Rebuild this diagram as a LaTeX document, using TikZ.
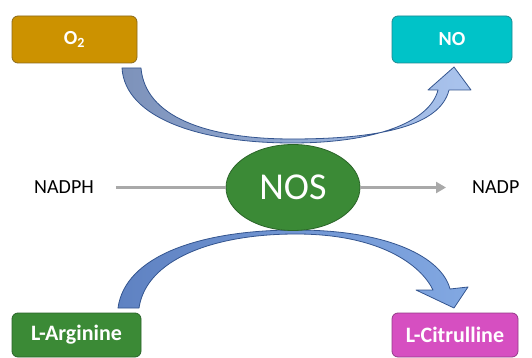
\documentclass[tikz,border=0pt]{standalone}
\usepackage{fontspec}
\setmainfont{Carlito}
\usetikzlibrary{shapes.geometric,arrows.meta}
\definecolor{oxy}{HTML}{CC9200}
\definecolor{oxyb}{HTML}{8C6A1A}
\definecolor{noc}{HTML}{00C3C8}
\definecolor{nocb}{HTML}{1B8A92}
\definecolor{argc}{HTML}{3B8A36}
\definecolor{argb}{HTML}{2A6428}
\definecolor{citc}{HTML}{D64FC1}
\definecolor{citb}{HTML}{953A88}
\definecolor{arrb}{HTML}{34558F}
\definecolor{lineg}{HTML}{A9A9A9}
\definecolor{topl}{HTML}{7D92BA}
\definecolor{topr}{HTML}{AAC4EE}
\definecolor{botl}{HTML}{5F82C2}
\definecolor{botr}{HTML}{82A8E2}
\tikzset{
  boxsty/.style={draw, line width=0.8pt, rounded corners=6pt, inner sep=0pt,
    text=white, font=\fontsize{20}{22}\selectfont\bfseries},
  bigbox/.style={boxsty, font=\fontsize{22}{24}\selectfont\bfseries},
  plain/.style={inner sep=0pt, font=\fontsize{20}{23}\selectfont},
  grayline/.style={draw=lineg, line width=2.6pt},
  blockarrow/.style={draw=arrb, line width=0.8pt, line join=round}
}
\begin{document}
\begin{tikzpicture}[x=1pt,y=-1pt]
\useasboundingbox (0,0) rectangle (532,358);
\fill[white] (0,0) rectangle (532,358);

% boxes
\node[boxsty, fill=oxy, draw=oxyb, minimum width=125pt, minimum height=47pt] (o2) at (74.5,39.5) {O\textsubscript{2}};
\node[boxsty, fill=noc, draw=nocb, minimum width=120pt, minimum height=47pt] (no) at (452,39.5) {NO};
\node[bigbox, fill=argc, draw=argb, minimum width=129pt, minimum height=44pt] (arg) at (76.5,335) {L-Arginine};
\node[bigbox, fill=citc, draw=citb, minimum width=126pt, minimum height=44pt] (cit) at (455,335) {L-Citrulline};

% top curved arrow (O2 -> NO)
\shade[blockarrow, left color=topl, right color=topr]
  (122,68) .. controls (125,118) and (200,143) .. (292,143)
  .. controls (375,143) and (430,122) .. (438,90)
  -- (428,90) -- (454,67) -- (471,90) -- (449,90)
  .. controls (440,126) and (380,139) .. (292,139)
  .. controls (205,139) and (145,116) .. (141,68) -- cycle;

% bottom curved arrow (L-Arginine -> L-Citrulline)
\shade[blockarrow, left color=botl, right color=botr]
  (118,308) .. controls (125,256) and (200,230) .. (296,230)
  .. controls (390,230) and (442,258) .. (450,289)
  -- (468,287) -- (454,308) -- (416,290) -- (433,290)
  .. controls (421,265) and (380,234) .. (296,234)
  .. controls (212,234) and (146,260) .. (139,308) -- cycle;

% NOS
\node[ellipse, fill=argc, draw=argb, line width=0.8pt, minimum width=134pt, minimum height=86pt, inner sep=0pt,
  text=white, font=\fontsize{38}{40}\selectfont] (nos) at (293,187.5) {NOS};

% side texts
\node[plain] (nadph) at (64,187.5) {NADPH};
\node[plain, anchor=west] (nadp) at (472,187.5) {NADP};

\draw[grayline, shorten <=22pt] (nadph.east) -- (nos);
\draw[grayline, -{Triangle[length=10pt,width=11pt]}, shorten >=26pt] (nos) -- (nadp.west);
\end{tikzpicture}
\end{document}
